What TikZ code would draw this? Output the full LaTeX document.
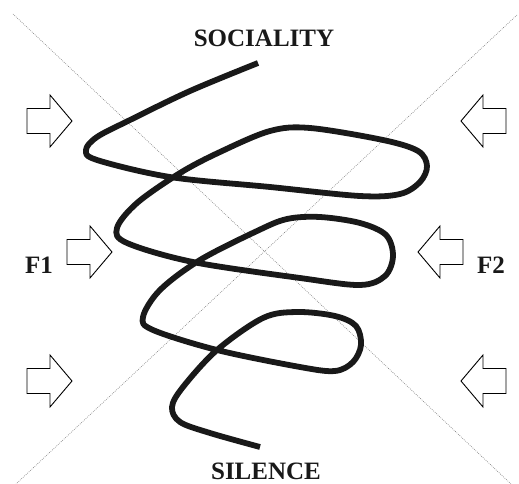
\documentclass[tikz,border=0pt]{standalone}
\usepackage{fontspec}
\setmainfont{Liberation Serif}
\usetikzlibrary{arrows.meta}

\tikzset{
  push/.pic={
    \draw[line width=0.9pt,fill=white] (0,0) -- (-22,-26) -- (-22,-12.5) --
      (-45,-12.5) -- (-45,12.5) -- (-22,12.5) -- (-22,26) -- cycle;
  },
  label/.style={font=\fontsize{25}{30}\selectfont\bfseries,text=black!90,anchor=base,inner sep=0pt},
  guide/.style={gray,line width=0.6pt,dash pattern=on 0.8pt off 1.2pt},
  spiral/.style={line width=5.8pt,black!90,line join=round}
}

\begin{document}
\begin{tikzpicture}[x=1pt,y=-1pt]
      \useasboundingbox (0,0) rectangle (519,484);

      % Draw the two diagonals
      \coordinate (tl) at (13,14);
      \coordinate (br) at (511,484);
      \coordinate (tr) at (517,15);
      \coordinate (bl) at (16,484);
      \draw[guide] (tl) -- (br);
      \draw[guide] (tr) -- (bl);

      % Labels
      \node[label] (sociality) at (264,47) {SOCIALITY};
      \node[label] (silence) at (266,479) {SILENCE};
      \node[label] (f1) at (39,273) {F1};
      \node[label] (f2) at (491,273) {F2};

      % Draw the pushing arrows
      \foreach \y in {121,381} {
        \pic at (72,\y) {push};
        \pic[rotate=180] at (461,\y) {push};
      }
      \pic at (112,252) {push};
      \pic[rotate=180] at (418,252) {push};

      % Draw the spiral
      \draw[spiral] plot[smooth,tension=0.55] coordinates {
        (258,63) (190,91) (130,120) (97,137) (86,150) (97,160)
        (170,177) (270,187) (360,196) (400,194) (420,182) (427,166)
        (418,151) (383,140) (310,128) (270,131) (220,152) (180,173)
        (137,203) (117,228) (127,243) (193,262) (300,278) (360,285)
        (385,276) (393,256) (386,235) (360,223) (320,217) (287,219)
        (257,231) (200,260) (160,290) (143,317) (153,330) (217,350)
        (300,367) (335,371) (353,362) (361,345) (356,326) (335,316)
        (297,312) (263,318) (217,350) (183,387) (172,407) (180,422)
        (210,433) (260,447)
      };
    \end{tikzpicture}
\end{document}
